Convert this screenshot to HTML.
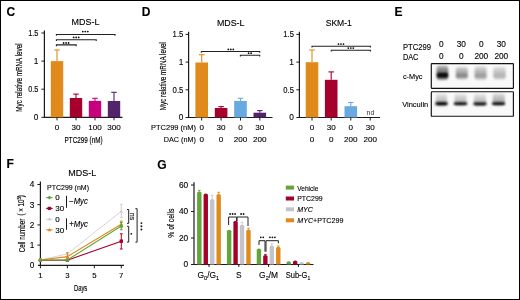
<!DOCTYPE html>
<html><head><meta charset="utf-8"><style>
html,body{margin:0;padding:0;background:#fff;width:520px;height:300px;overflow:hidden}
text{font-family:"Liberation Sans", sans-serif;stroke:#000;stroke-width:0.12px}
.hv{stroke-width:0.16px}
.tt{stroke-width:0.14px}
</style></head><body>
<svg width="520" height="300" viewBox="0 0 520 300" style="display:block;will-change:transform;font-family:'Liberation Sans', sans-serif">
<rect x="0" y="0" width="520" height="300" fill="#fff"/>

<defs>
<filter id="b1" x="-50%" y="-50%" width="200%" height="200%"><feGaussianBlur stdDeviation="1.2"/></filter>
<filter id="b2" x="-50%" y="-50%" width="200%" height="200%"><feGaussianBlur stdDeviation="0.85"/></filter>
<filter id="b3" x="-50%" y="-50%" width="200%" height="200%"><feGaussianBlur stdDeviation="1.0"/></filter>
<linearGradient id="g1" x1="0" y1="0" x2="0" y2="1"><stop offset="0" stop-color="#000" stop-opacity="0.25"/><stop offset="0.45" stop-color="#000" stop-opacity="0.55"/><stop offset="0.7" stop-color="#000" stop-opacity="0.95"/><stop offset="1" stop-color="#000" stop-opacity="0.35"/></linearGradient>
<linearGradient id="g2" x1="0" y1="0" x2="0" y2="1"><stop offset="0" stop-color="#000" stop-opacity="0.15"/><stop offset="0.5" stop-color="#000" stop-opacity="0.35"/><stop offset="0.72" stop-color="#000" stop-opacity="0.5"/><stop offset="1" stop-color="#000" stop-opacity="0.15"/></linearGradient>
<linearGradient id="g3" x1="0" y1="0" x2="0" y2="1"><stop offset="0" stop-color="#000" stop-opacity="0.12"/><stop offset="0.5" stop-color="#000" stop-opacity="0.3"/><stop offset="0.72" stop-color="#000" stop-opacity="0.4"/><stop offset="1" stop-color="#000" stop-opacity="0.12"/></linearGradient>
<linearGradient id="g4" x1="0" y1="0" x2="0" y2="1"><stop offset="0" stop-color="#000" stop-opacity="0.1"/><stop offset="0.5" stop-color="#000" stop-opacity="0.24"/><stop offset="0.72" stop-color="#000" stop-opacity="0.3"/><stop offset="1" stop-color="#000" stop-opacity="0.1"/></linearGradient>
<linearGradient id="gv" x1="0" y1="0" x2="0" y2="1"><stop offset="0" stop-color="#000" stop-opacity="0.08"/><stop offset="1" stop-color="#000" stop-opacity="0.3"/></linearGradient>
<linearGradient id="gv2" x1="0" y1="0" x2="0" y2="1"><stop offset="0" stop-color="#000" stop-opacity="0.12"/><stop offset="1" stop-color="#000" stop-opacity="0.38"/></linearGradient>
</defs>
<rect x="431.3" y="63.6" width="82.1" height="24.7" rx="0.6" fill="#f9f9f9" stroke="#111" stroke-width="1.15"/>
<rect x="431.3" y="91.7" width="82.1" height="24.6" rx="0.6" fill="#f9f9f9" stroke="#111" stroke-width="1.15"/>
<g filter="url(#b1)">
<rect x="436.6" y="65.5" width="11.6" height="14.5" rx="3" fill="url(#g1)"/>
<rect x="455.8" y="67" width="12" height="12.5" rx="3" fill="url(#g2)"/>
<rect x="474.6" y="66.2" width="12" height="13.8" rx="3" fill="url(#g3)"/>
<rect x="493.3" y="66.8" width="12.4" height="13" rx="3" fill="url(#g4)"/>
</g>
<g filter="url(#b3)">
<rect x="437.5" y="73.6" width="10.2" height="2.8" rx="1.4" fill="#000" opacity="0.9"/>
</g>
<g filter="url(#b1)">
<rect x="436" y="93.8" width="11" height="9.5" rx="2" fill="url(#gv)"/>
<rect x="454.5" y="94" width="12" height="9.3" rx="2" fill="url(#gv)"/>
<rect x="474" y="94" width="12" height="9.5" rx="2" fill="url(#gv)"/>
<rect x="492.7" y="93.5" width="12" height="10" rx="2" fill="url(#gv2)"/>
</g>
<g filter="url(#b2)">
<path d="M435.5 102.3 Q441.5 101.9 447.5 102.3 L447.5 104.9 Q441.5 105.9 435.5 104.9 Z" fill="#000"/>
<path d="M453.9 102.4 Q460.5 102 467.1 102.4 L467.1 104.8 Q460.5 105.8 453.9 104.8 Z" fill="#000"/>
<path d="M473.6 102.6 Q480 102.2 486.4 102.6 L486.4 105 Q480 106 473.6 105 Z" fill="#000"/>
<path d="M492.1 102.4 Q498.5 102 505 102.4 L505 104.8 Q498.5 105.8 492.1 104.8 Z" fill="#000"/>
</g>

<text x="6.6" y="16.4" font-size="12" text-anchor="start" font-weight="bold" font-style="normal" fill="#000" >C</text>
<text x="85.5" y="25" font-size="9.9" text-anchor="middle" font-weight="normal" font-style="normal" fill="#000" textLength="27.8" lengthAdjust="spacingAndGlyphs" class="tt">MDS-L</text>
<line x1="44.4" y1="30.499999999999986" x2="44.4" y2="117.8" stroke="#1a1a1a" stroke-width="1.2"/>
<line x1="43.9" y1="117.3" x2="122.5" y2="117.3" stroke="#1a1a1a" stroke-width="1.2"/>
<line x1="41.4" y1="117.3" x2="44.4" y2="117.3" stroke="#1a1a1a" stroke-width="1"/>
<text x="38.4" y="120.2" font-size="8.3" text-anchor="end" font-weight="normal" font-style="normal" fill="#000" >0</text>
<line x1="41.4" y1="89.19999999999999" x2="44.4" y2="89.19999999999999" stroke="#1a1a1a" stroke-width="1"/>
<text x="38.4" y="92.1" font-size="8.3" text-anchor="end" font-weight="normal" font-style="normal" fill="#000" textLength="10.2" lengthAdjust="spacingAndGlyphs" >0.5</text>
<line x1="41.4" y1="61.099999999999994" x2="44.4" y2="61.099999999999994" stroke="#1a1a1a" stroke-width="1"/>
<text x="38.4" y="63.99999999999999" font-size="8.3" text-anchor="end" font-weight="normal" font-style="normal" fill="#000" >1</text>
<line x1="41.4" y1="32.999999999999986" x2="44.4" y2="32.999999999999986" stroke="#1a1a1a" stroke-width="1"/>
<text x="38.4" y="35.899999999999984" font-size="8.3" text-anchor="end" font-weight="normal" font-style="normal" fill="#000" textLength="10.2" lengthAdjust="spacingAndGlyphs" >1.5</text>
<rect x="50.8" y="61.1" width="12.4" height="56.199999999999996" fill="#E08A1C"/>
<line x1="57" y1="50" x2="57" y2="61.1" stroke="#E08A1C" stroke-width="1.1"/>
<line x1="54.25" y1="50" x2="59.75" y2="50" stroke="#E08A1C" stroke-width="1.1"/>
<line x1="57" y1="117.3" x2="57" y2="120.3" stroke="#1a1a1a" stroke-width="1"/>
<rect x="69.8" y="98" width="12.4" height="19.299999999999997" fill="#A6002C"/>
<line x1="76" y1="94.1" x2="76" y2="98" stroke="#A6002C" stroke-width="1.1"/>
<line x1="73.25" y1="94.1" x2="78.75" y2="94.1" stroke="#A6002C" stroke-width="1.1"/>
<line x1="76" y1="117.3" x2="76" y2="120.3" stroke="#1a1a1a" stroke-width="1"/>
<rect x="88.8" y="100.9" width="12.4" height="16.39999999999999" fill="#C9007C"/>
<line x1="95" y1="98.3" x2="95" y2="100.9" stroke="#C9007C" stroke-width="1.1"/>
<line x1="92.25" y1="98.3" x2="97.75" y2="98.3" stroke="#C9007C" stroke-width="1.1"/>
<line x1="95" y1="117.3" x2="95" y2="120.3" stroke="#1a1a1a" stroke-width="1"/>
<rect x="107.8" y="101" width="12.4" height="16.299999999999997" fill="#54246A"/>
<line x1="114" y1="92.3" x2="114" y2="101" stroke="#54246A" stroke-width="1.1"/>
<line x1="111.25" y1="92.3" x2="116.75" y2="92.3" stroke="#54246A" stroke-width="1.1"/>
<line x1="114" y1="117.3" x2="114" y2="120.3" stroke="#1a1a1a" stroke-width="1"/>
<text x="57" y="130.4" font-size="8.1" text-anchor="middle" font-weight="normal" font-style="normal" fill="#000" >0</text>
<text x="76" y="130.4" font-size="8.1" text-anchor="middle" font-weight="normal" font-style="normal" fill="#000" >30</text>
<text x="95" y="130.4" font-size="8.1" text-anchor="middle" font-weight="normal" font-style="normal" fill="#000" >100</text>
<text x="114" y="130.4" font-size="8.1" text-anchor="middle" font-weight="normal" font-style="normal" fill="#000" >300</text>
<text x="83.6" y="142.6" font-size="8.5" text-anchor="middle" font-weight="normal" font-style="normal" fill="#000" textLength="38" lengthAdjust="spacingAndGlyphs" class="hv">PTC299 (nM)</text>
<text class="hv" transform="translate(21.8,77.5) rotate(-90)" x="0" y="0" font-size="8.4" text-anchor="middle" fill="#000" textLength="68.3" lengthAdjust="spacingAndGlyphs">Myc relative mRNA level</text>
<path d="M56.4 35.8 V34.5 H115 V35.8" fill="none" stroke="#222" stroke-width="1.1"/>
<circle cx="82.80" cy="31.60" r="0.9" fill="#111"/>
<circle cx="85.30" cy="31.60" r="0.9" fill="#111"/>
<circle cx="87.80" cy="31.60" r="0.9" fill="#111"/>
<path d="M56.4 41.0 V39.7 H96.2 V41.0" fill="none" stroke="#222" stroke-width="1.1"/>
<circle cx="73.70" cy="37.40" r="0.9" fill="#111"/>
<circle cx="76.20" cy="37.40" r="0.9" fill="#111"/>
<circle cx="78.70" cy="37.40" r="0.9" fill="#111"/>
<path d="M56.4 46.199999999999996 V44.9 H76.2 V46.199999999999996" fill="none" stroke="#222" stroke-width="1.1"/>
<circle cx="63.60" cy="43.00" r="0.9" fill="#111"/>
<circle cx="66.10" cy="43.00" r="0.9" fill="#111"/>
<circle cx="68.60" cy="43.00" r="0.9" fill="#111"/>
<text x="141.8" y="16.4" font-size="12" text-anchor="start" font-weight="bold" font-style="normal" fill="#000" >D</text>
<text x="230.7" y="25.7" font-size="9.9" text-anchor="middle" font-weight="normal" font-style="normal" fill="#000" textLength="27.6" lengthAdjust="spacingAndGlyphs" class="tt">MDS-L</text>
<line x1="188.6" y1="31.800000000000004" x2="188.6" y2="118.0" stroke="#1a1a1a" stroke-width="1.2"/>
<line x1="188.1" y1="117.5" x2="272.5" y2="117.5" stroke="#1a1a1a" stroke-width="1.2"/>
<line x1="185.6" y1="117.5" x2="188.6" y2="117.5" stroke="#1a1a1a" stroke-width="1"/>
<text x="183.4" y="120.4" font-size="8.3" text-anchor="end" font-weight="normal" font-style="normal" fill="#000" >0</text>
<line x1="185.6" y1="89.8" x2="188.6" y2="89.8" stroke="#1a1a1a" stroke-width="1"/>
<text x="183.4" y="92.7" font-size="8.3" text-anchor="end" font-weight="normal" font-style="normal" fill="#000" textLength="10.8" lengthAdjust="spacingAndGlyphs" >0.5</text>
<line x1="185.6" y1="62.1" x2="188.6" y2="62.1" stroke="#1a1a1a" stroke-width="1"/>
<text x="183.4" y="65.0" font-size="8.3" text-anchor="end" font-weight="normal" font-style="normal" fill="#000" >1</text>
<line x1="185.6" y1="34.400000000000006" x2="188.6" y2="34.400000000000006" stroke="#1a1a1a" stroke-width="1"/>
<text x="183.4" y="37.300000000000004" font-size="8.3" text-anchor="end" font-weight="normal" font-style="normal" fill="#000" textLength="10.8" lengthAdjust="spacingAndGlyphs" >1.5</text>
<rect x="195.39999999999998" y="62.5" width="12.6" height="55.0" fill="#E08A1C"/>
<line x1="201.7" y1="54.7" x2="201.7" y2="62.5" stroke="#E08A1C" stroke-width="1.1"/>
<line x1="198.95" y1="54.7" x2="204.45" y2="54.7" stroke="#E08A1C" stroke-width="1.1"/>
<line x1="201.7" y1="117.5" x2="201.7" y2="120.5" stroke="#1a1a1a" stroke-width="1"/>
<rect x="214.79999999999998" y="108" width="12.6" height="9.5" fill="#A6002C"/>
<line x1="221.1" y1="106.6" x2="221.1" y2="108" stroke="#A6002C" stroke-width="1.1"/>
<line x1="218.35" y1="106.6" x2="223.85" y2="106.6" stroke="#A6002C" stroke-width="1.1"/>
<line x1="221.1" y1="117.5" x2="221.1" y2="120.5" stroke="#1a1a1a" stroke-width="1"/>
<rect x="234.2" y="100.9" width="12.6" height="16.599999999999994" fill="#68A9DF"/>
<line x1="240.5" y1="98.3" x2="240.5" y2="100.9" stroke="#68A9DF" stroke-width="1.1"/>
<line x1="237.75" y1="98.3" x2="243.25" y2="98.3" stroke="#68A9DF" stroke-width="1.1"/>
<line x1="240.5" y1="117.5" x2="240.5" y2="120.5" stroke="#1a1a1a" stroke-width="1"/>
<rect x="253.5" y="112.7" width="12.6" height="4.799999999999997" fill="#54246A"/>
<line x1="259.8" y1="110.6" x2="259.8" y2="112.7" stroke="#54246A" stroke-width="1.1"/>
<line x1="257.05" y1="110.6" x2="262.55" y2="110.6" stroke="#54246A" stroke-width="1.1"/>
<line x1="259.8" y1="117.5" x2="259.8" y2="120.5" stroke="#1a1a1a" stroke-width="1"/>
<text x="196" y="130.3" font-size="8.1" text-anchor="end" font-weight="normal" font-style="normal" fill="#000" textLength="45" lengthAdjust="spacingAndGlyphs" >PTC299 (nM)</text>
<text x="196" y="142.2" font-size="8.1" text-anchor="end" font-weight="normal" font-style="normal" fill="#000" textLength="32.2" lengthAdjust="spacingAndGlyphs" >DAC (nM)</text>
<text x="201.7" y="130.3" font-size="8.1" text-anchor="middle" font-weight="normal" font-style="normal" fill="#000" >0</text>
<text x="201.7" y="142.2" font-size="8.1" text-anchor="middle" font-weight="normal" font-style="normal" fill="#000" >0</text>
<text x="221.1" y="130.3" font-size="8.1" text-anchor="middle" font-weight="normal" font-style="normal" fill="#000" >30</text>
<text x="221.1" y="142.2" font-size="8.1" text-anchor="middle" font-weight="normal" font-style="normal" fill="#000" >0</text>
<text x="240.5" y="130.3" font-size="8.1" text-anchor="middle" font-weight="normal" font-style="normal" fill="#000" >0</text>
<text x="240.5" y="142.2" font-size="8.1" text-anchor="middle" font-weight="normal" font-style="normal" fill="#000" >200</text>
<text x="259.8" y="130.3" font-size="8.1" text-anchor="middle" font-weight="normal" font-style="normal" fill="#000" >30</text>
<text x="259.8" y="142.2" font-size="8.1" text-anchor="middle" font-weight="normal" font-style="normal" fill="#000" >200</text>
<text class="hv" transform="translate(166.2,76.1) rotate(-90)" x="0" y="0" font-size="8.4" text-anchor="middle" fill="#000" textLength="68.2" lengthAdjust="spacingAndGlyphs">Myc relative mRNA level</text>
<path d="M201.4 52.8 V51.5 H259.7 V52.8" fill="none" stroke="#222" stroke-width="1.1"/>
<circle cx="228.30" cy="49.40" r="0.9" fill="#111"/>
<circle cx="230.80" cy="49.40" r="0.9" fill="#111"/>
<circle cx="233.30" cy="49.40" r="0.9" fill="#111"/>
<path d="M240.4 56.599999999999994 V55.3 H259.7 V56.599999999999994" fill="none" stroke="#222" stroke-width="1.1"/>
<circle cx="248.65" cy="53.20" r="0.9" fill="#111"/>
<circle cx="251.15" cy="53.20" r="0.9" fill="#111"/>
<text x="338.8" y="25.6" font-size="9.9" text-anchor="middle" font-weight="normal" font-style="normal" fill="#000" textLength="26.2" lengthAdjust="spacingAndGlyphs" class="tt">SKM-1</text>
<line x1="299.4" y1="31.800000000000004" x2="299.4" y2="118.0" stroke="#1a1a1a" stroke-width="1.2"/>
<line x1="298.9" y1="117.5" x2="380" y2="117.5" stroke="#1a1a1a" stroke-width="1.2"/>
<line x1="296.4" y1="117.5" x2="299.4" y2="117.5" stroke="#1a1a1a" stroke-width="1"/>
<text x="293.9" y="120.4" font-size="8.3" text-anchor="end" font-weight="normal" font-style="normal" fill="#000" >0</text>
<line x1="296.4" y1="89.8" x2="299.4" y2="89.8" stroke="#1a1a1a" stroke-width="1"/>
<text x="293.9" y="92.7" font-size="8.3" text-anchor="end" font-weight="normal" font-style="normal" fill="#000" textLength="10.6" lengthAdjust="spacingAndGlyphs" >0.5</text>
<line x1="296.4" y1="62.1" x2="299.4" y2="62.1" stroke="#1a1a1a" stroke-width="1"/>
<text x="293.9" y="65.0" font-size="8.3" text-anchor="end" font-weight="normal" font-style="normal" fill="#000" >1</text>
<line x1="296.4" y1="34.400000000000006" x2="299.4" y2="34.400000000000006" stroke="#1a1a1a" stroke-width="1"/>
<text x="293.9" y="37.300000000000004" font-size="8.3" text-anchor="end" font-weight="normal" font-style="normal" fill="#000" textLength="10.6" lengthAdjust="spacingAndGlyphs" >1.5</text>
<rect x="305.7" y="62.2" width="12.6" height="55.3" fill="#E08A1C"/>
<line x1="312" y1="50" x2="312" y2="62.2" stroke="#E08A1C" stroke-width="1.1"/>
<line x1="309.25" y1="50" x2="314.75" y2="50" stroke="#E08A1C" stroke-width="1.1"/>
<rect x="324.9" y="79.8" width="12.6" height="37.7" fill="#A6002C"/>
<line x1="331.2" y1="71.9" x2="331.2" y2="79.8" stroke="#A6002C" stroke-width="1.1"/>
<line x1="328.45" y1="71.9" x2="333.95" y2="71.9" stroke="#A6002C" stroke-width="1.1"/>
<rect x="344.5" y="106.2" width="12.6" height="11.299999999999997" fill="#68A9DF"/>
<line x1="350.8" y1="102.5" x2="350.8" y2="106.2" stroke="#68A9DF" stroke-width="1.1"/>
<line x1="348.05" y1="102.5" x2="353.55" y2="102.5" stroke="#68A9DF" stroke-width="1.1"/>
<line x1="312" y1="117.5" x2="312" y2="120.5" stroke="#1a1a1a" stroke-width="1"/>
<line x1="331.2" y1="117.5" x2="331.2" y2="120.5" stroke="#1a1a1a" stroke-width="1"/>
<line x1="350.8" y1="117.5" x2="350.8" y2="120.5" stroke="#1a1a1a" stroke-width="1"/>
<line x1="370.2" y1="117.5" x2="370.2" y2="120.5" stroke="#1a1a1a" stroke-width="1"/>
<text x="370.4" y="115.4" font-size="7" text-anchor="middle" font-weight="normal" font-style="normal" fill="#333" style="stroke-width:0">nd</text>
<text x="312" y="130.3" font-size="8.1" text-anchor="middle" font-weight="normal" font-style="normal" fill="#000" >0</text>
<text x="312" y="142.2" font-size="8.1" text-anchor="middle" font-weight="normal" font-style="normal" fill="#000" >0</text>
<text x="331.2" y="130.3" font-size="8.1" text-anchor="middle" font-weight="normal" font-style="normal" fill="#000" >30</text>
<text x="331.2" y="142.2" font-size="8.1" text-anchor="middle" font-weight="normal" font-style="normal" fill="#000" >0</text>
<text x="350.8" y="130.3" font-size="8.1" text-anchor="middle" font-weight="normal" font-style="normal" fill="#000" >0</text>
<text x="350.8" y="142.2" font-size="8.1" text-anchor="middle" font-weight="normal" font-style="normal" fill="#000" >200</text>
<text x="370.2" y="130.3" font-size="8.1" text-anchor="middle" font-weight="normal" font-style="normal" fill="#000" >30</text>
<text x="370.2" y="142.2" font-size="8.1" text-anchor="middle" font-weight="normal" font-style="normal" fill="#000" >200</text>
<path d="M312 47.599999999999994 V46.3 H370.4 V47.599999999999994" fill="none" stroke="#222" stroke-width="1.1"/>
<circle cx="338.50" cy="44.10" r="0.9" fill="#111"/>
<circle cx="341.00" cy="44.10" r="0.9" fill="#111"/>
<circle cx="343.50" cy="44.10" r="0.9" fill="#111"/>
<path d="M331.3 51.599999999999994 V50.3 H370.4 V51.599999999999994" fill="none" stroke="#222" stroke-width="1.1"/>
<circle cx="348.30" cy="48.10" r="0.9" fill="#111"/>
<circle cx="350.80" cy="48.10" r="0.9" fill="#111"/>
<circle cx="353.30" cy="48.10" r="0.9" fill="#111"/>
<text x="394.4" y="16.4" font-size="12" text-anchor="start" font-weight="bold" font-style="normal" fill="#000" >E</text>
<text x="402.9" y="50.1" font-size="8.3" text-anchor="start" font-weight="normal" font-style="normal" fill="#000" textLength="28" lengthAdjust="spacingAndGlyphs" >PTC299</text>
<text x="402.9" y="59.9" font-size="8.3" text-anchor="start" font-weight="normal" font-style="normal" fill="#000" textLength="15.5" lengthAdjust="spacingAndGlyphs" >DAC</text>
<text x="441.3" y="47.2" font-size="8.3" text-anchor="middle" font-weight="normal" font-style="normal" fill="#000" >0</text>
<text x="441.3" y="58.8" font-size="8.3" text-anchor="middle" font-weight="normal" font-style="normal" fill="#000" >0</text>
<text x="461.3" y="47.2" font-size="8.3" text-anchor="middle" font-weight="normal" font-style="normal" fill="#000" >30</text>
<text x="461.3" y="58.8" font-size="8.3" text-anchor="middle" font-weight="normal" font-style="normal" fill="#000" >0</text>
<text x="481.3" y="47.2" font-size="8.3" text-anchor="middle" font-weight="normal" font-style="normal" fill="#000" >0</text>
<text x="481.3" y="58.8" font-size="8.3" text-anchor="middle" font-weight="normal" font-style="normal" fill="#000" >200</text>
<text x="501.3" y="47.2" font-size="8.3" text-anchor="middle" font-weight="normal" font-style="normal" fill="#000" >30</text>
<text x="501.3" y="58.8" font-size="8.3" text-anchor="middle" font-weight="normal" font-style="normal" fill="#000" >200</text>
<text x="402.9" y="79.4" font-size="7.8" text-anchor="start" font-weight="normal" font-style="normal" fill="#000" textLength="19.6" lengthAdjust="spacingAndGlyphs" >c-Myc</text>
<text x="402.2" y="107" font-size="8" text-anchor="start" font-weight="normal" font-style="normal" fill="#000" textLength="26" lengthAdjust="spacingAndGlyphs" >Vinculin</text>
<text x="6.6" y="168.4" font-size="12" text-anchor="start" font-weight="bold" font-style="normal" fill="#000" >F</text>
<text x="82.3" y="176.4" font-size="9.9" text-anchor="middle" font-weight="normal" font-style="normal" fill="#000" textLength="28" lengthAdjust="spacingAndGlyphs" class="tt">MDS-L</text>
<line x1="40.4" y1="181.5" x2="40.4" y2="265.8" stroke="#1a1a1a" stroke-width="1.2"/>
<line x1="37.9" y1="265.3" x2="124" y2="265.3" stroke="#1a1a1a" stroke-width="1.2"/>
<line x1="37.4" y1="245.10000000000002" x2="40.4" y2="245.10000000000002" stroke="#1a1a1a" stroke-width="1"/>
<line x1="37.4" y1="224.9" x2="40.4" y2="224.9" stroke="#1a1a1a" stroke-width="1"/>
<line x1="37.4" y1="204.70000000000002" x2="40.4" y2="204.70000000000002" stroke="#1a1a1a" stroke-width="1"/>
<line x1="37.4" y1="184.5" x2="40.4" y2="184.5" stroke="#1a1a1a" stroke-width="1"/>
<text x="34.3" y="268.2" font-size="8.3" text-anchor="end" font-weight="normal" font-style="normal" fill="#000" >0</text>
<text x="34.3" y="248.00000000000003" font-size="8.3" text-anchor="end" font-weight="normal" font-style="normal" fill="#000" >1</text>
<text x="34.3" y="227.8" font-size="8.3" text-anchor="end" font-weight="normal" font-style="normal" fill="#000" >2</text>
<text x="34.3" y="207.60000000000002" font-size="8.3" text-anchor="end" font-weight="normal" font-style="normal" fill="#000" >3</text>
<text x="34.3" y="187.4" font-size="8.3" text-anchor="end" font-weight="normal" font-style="normal" fill="#000" >4</text>
<line x1="40.4" y1="265.3" x2="40.4" y2="268.3" stroke="#1a1a1a" stroke-width="1"/>
<text x="40.4" y="278.1" font-size="7.8" text-anchor="middle" font-weight="normal" font-style="normal" fill="#000" >1</text>
<line x1="67.36" y1="265.3" x2="67.36" y2="268.3" stroke="#1a1a1a" stroke-width="1"/>
<text x="67.36" y="278.1" font-size="7.8" text-anchor="middle" font-weight="normal" font-style="normal" fill="#000" >3</text>
<line x1="94.32" y1="265.3" x2="94.32" y2="268.3" stroke="#1a1a1a" stroke-width="1"/>
<text x="94.32" y="278.1" font-size="7.8" text-anchor="middle" font-weight="normal" font-style="normal" fill="#000" >5</text>
<line x1="121.28" y1="265.3" x2="121.28" y2="268.3" stroke="#1a1a1a" stroke-width="1"/>
<text x="121.28" y="278.1" font-size="7.8" text-anchor="middle" font-weight="normal" font-style="normal" fill="#000" >7</text>
<text x="80.6" y="290.7" font-size="9.6" text-anchor="middle" font-weight="normal" font-style="normal" fill="#000" textLength="13.4" lengthAdjust="spacingAndGlyphs" class="hv">Days</text>
<text class="hv" transform="translate(24.6,235.5) rotate(-90)" font-size="9" text-anchor="middle" fill="#000" textLength="33.6" lengthAdjust="spacingAndGlyphs">Cell number</text>
<text class="hv" transform="translate(24.4,205.3) rotate(-90)" font-size="8.6" text-anchor="middle" fill="#000" textLength="20.5" lengthAdjust="spacingAndGlyphs">( × 10<tspan font-size="5.8" dy="-3.4">5</tspan><tspan dy="3.4">)</tspan></text>
<text x="68" y="190.3" font-size="8" text-anchor="middle" font-weight="normal" font-style="normal" fill="#000" textLength="42" lengthAdjust="spacingAndGlyphs" >PTC299 (nM)</text>
<polyline points="40.40,260.2 67.36,260.2 121.28,241.2" fill="none" stroke="#A6002C" stroke-width="1.1"/>
<circle cx="40.4" cy="260.2" r="1.85" fill="#A6002C"/>
<circle cx="67.36" cy="260.2" r="1.85" fill="#A6002C"/>
<line x1="121.28" y1="233.8" x2="121.28" y2="249" stroke="#A6002C" stroke-width="1"/>
<line x1="119.88" y1="233.8" x2="122.68" y2="233.8" stroke="#A6002C" stroke-width="1"/>
<line x1="119.88" y1="249" x2="122.68" y2="249" stroke="#A6002C" stroke-width="1"/>
<rect x="119.58" y="239.5" width="3.4" height="3.4" fill="#A6002C"/>
<polyline points="40.40,260 67.36,253.8 121.28,211.3" fill="none" stroke="#cfcfcf" stroke-width="0.9"/>
<polygon points="38.5,261.4 40.4,258.1 42.3,261.4" fill="#cfcfcf"/>
<polygon points="65.46,255.20000000000002 67.36,251.9 69.26,255.20000000000002" fill="#cfcfcf"/>
<line x1="121.28" y1="204.3" x2="121.28" y2="217.5" stroke="#cfcfcf" stroke-width="1"/>
<line x1="119.88" y1="204.3" x2="122.68" y2="204.3" stroke="#cfcfcf" stroke-width="1"/>
<line x1="119.88" y1="217.5" x2="122.68" y2="217.5" stroke="#cfcfcf" stroke-width="1"/>
<polygon points="119.38,212.70000000000002 121.28,209.4 123.18,212.70000000000002" fill="#cfcfcf"/>
<polyline points="40.40,260 67.36,256.6 121.28,224.3" fill="none" stroke="#E08A1C" stroke-width="1.1"/>
<polygon points="38.5,261.4 40.4,258.1 42.3,261.4" fill="#E08A1C"/>
<line x1="67.36" y1="252.7" x2="67.36" y2="258" stroke="#E08A1C" stroke-width="1"/>
<line x1="65.96" y1="252.7" x2="68.76" y2="252.7" stroke="#E08A1C" stroke-width="1"/>
<line x1="65.96" y1="258" x2="68.76" y2="258" stroke="#E08A1C" stroke-width="1"/>
<polygon points="65.46,258.0 67.36,254.70000000000002 69.26,258.0" fill="#E08A1C"/>
<line x1="121.28" y1="221.1" x2="121.28" y2="227" stroke="#E08A1C" stroke-width="1"/>
<line x1="119.88" y1="221.1" x2="122.68" y2="221.1" stroke="#E08A1C" stroke-width="1"/>
<line x1="119.88" y1="227" x2="122.68" y2="227" stroke="#E08A1C" stroke-width="1"/>
<polygon points="119.38,225.70000000000002 121.28,222.4 123.18,225.70000000000002" fill="#E08A1C"/>
<polyline points="40.40,260 67.36,260 121.28,226.0" fill="none" stroke="#62A538" stroke-width="1.1"/>
<circle cx="40.4" cy="260" r="1.85" fill="#62A538"/>
<circle cx="67.36" cy="260" r="1.85" fill="#62A538"/>
<line x1="121.28" y1="222.5" x2="121.28" y2="229.8" stroke="#62A538" stroke-width="1"/>
<line x1="119.88" y1="222.5" x2="122.68" y2="222.5" stroke="#62A538" stroke-width="1"/>
<line x1="119.88" y1="229.8" x2="122.68" y2="229.8" stroke="#62A538" stroke-width="1"/>
<circle cx="121.28" cy="226.0" r="1.85" fill="#62A538"/>
<line x1="46.2" y1="197.6" x2="52.6" y2="197.6" stroke="#62A538" stroke-width="1.1"/>
<polygon points="47.1,197.6 49.4,195.7 51.699999999999996,197.6 49.4,199.5" fill="#62A538"/>
<text x="55.2" y="200.4" font-size="8" text-anchor="start" font-weight="normal" font-style="normal" fill="#000" >0</text>
<line x1="46.2" y1="208.4" x2="52.6" y2="208.4" stroke="#A6002C" stroke-width="1.1"/>
<polygon points="47.0,208.4 48.1,206.8 50.699999999999996,206.8 51.8,208.4 50.699999999999996,210.0 48.1,210.0" fill="#A6002C"/>
<text x="55.2" y="211.20000000000002" font-size="8" text-anchor="start" font-weight="normal" font-style="normal" fill="#000" >30</text>
<line x1="46.2" y1="219.2" x2="52.6" y2="219.2" stroke="#cfcfcf" stroke-width="1.1"/>
<polygon points="47.5,220.6 49.4,217.29999999999998 51.3,220.6" fill="#cfcfcf"/>
<text x="55.2" y="222.0" font-size="8" text-anchor="start" font-weight="normal" font-style="normal" fill="#000" >0</text>
<line x1="46.2" y1="229.8" x2="52.6" y2="229.8" stroke="#E08A1C" stroke-width="1.1"/>
<polygon points="47.5,231.20000000000002 49.4,227.9 51.3,231.20000000000002" fill="#E08A1C"/>
<text x="55.2" y="232.60000000000002" font-size="8" text-anchor="start" font-weight="normal" font-style="normal" fill="#000" >30</text>
<line x1="66.5" y1="195.8" x2="66.5" y2="207.8" stroke="#1a1a1a" stroke-width="1"/>
<line x1="66.5" y1="218.4" x2="66.5" y2="229.8" stroke="#1a1a1a" stroke-width="1"/>
<text x="69.2" y="204.4" font-size="8.5" text-anchor="start" font-weight="normal" font-style="normal" fill="#000" textLength="18.6" lengthAdjust="spacingAndGlyphs" >−<tspan font-style="italic">Myc</tspan></text>
<text x="69.2" y="226.7" font-size="8.5" text-anchor="start" font-weight="normal" font-style="normal" fill="#000" textLength="18.8" lengthAdjust="spacingAndGlyphs" >+<tspan font-style="italic">Myc</tspan></text>
<path d="M127 209.5 H128.7 V223.4 H127" fill="none" stroke="#222" stroke-width="1"/>
<path d="M127 226.3 H128.7 V242.1 H127" fill="none" stroke="#222" stroke-width="1"/>
<path d="M135.4 208.7 H137.1 V242.1 H135.4" fill="none" stroke="#222" stroke-width="1"/>
<text transform="translate(130.2,216.5) rotate(90)" font-size="7" text-anchor="middle" fill="#222">ns</text>
<circle cx="131.30" cy="233.80" r="0.9" fill="#111"/>
<circle cx="141.40" cy="223.10" r="0.95" fill="#111"/>
<circle cx="141.40" cy="226.30" r="0.95" fill="#111"/>
<circle cx="141.40" cy="229.50" r="0.95" fill="#111"/>
<text x="157.3" y="168.5" font-size="12" text-anchor="start" font-weight="bold" font-style="normal" fill="#000" >G</text>
<line x1="194" y1="182.2" x2="194" y2="265.0" stroke="#1a1a1a" stroke-width="1.2"/>
<line x1="191" y1="264.5" x2="313.5" y2="264.5" stroke="#1a1a1a" stroke-width="1.2"/>
<line x1="191" y1="238.0" x2="194" y2="238.0" stroke="#1a1a1a" stroke-width="1"/>
<line x1="191" y1="211.5" x2="194" y2="211.5" stroke="#1a1a1a" stroke-width="1"/>
<line x1="191" y1="185.0" x2="194" y2="185.0" stroke="#1a1a1a" stroke-width="1"/>
<text x="188.2" y="267.4" font-size="8.3" text-anchor="end" font-weight="normal" font-style="normal" fill="#000" >0</text>
<text x="188.2" y="240.9" font-size="8.3" text-anchor="end" font-weight="normal" font-style="normal" fill="#000" >20</text>
<text x="188.2" y="214.4" font-size="8.3" text-anchor="end" font-weight="normal" font-style="normal" fill="#000" >40</text>
<text x="188.2" y="187.9" font-size="8.3" text-anchor="end" font-weight="normal" font-style="normal" fill="#000" >60</text>
<path d="M197.12 264.5 V192.90 Q197.12 191.70 199.32 191.40 Q201.52 191.70 201.52 192.90 V264.5 Z" fill="#62A538"/>
<line x1="199.325" y1="190.4" x2="199.325" y2="191.7" stroke="#62A538" stroke-width="0.9"/>
<line x1="198.02499999999998" y1="190.4" x2="200.625" y2="190.4" stroke="#62A538" stroke-width="0.9"/>
<path d="M203.58 264.5 V194.90 Q203.58 193.70 205.78 193.40 Q207.97 193.70 207.97 194.90 V264.5 Z" fill="#A6002C"/>
<path d="M210.03 264.5 V200.50 Q210.03 199.30 212.22 199.00 Q214.42 199.30 214.42 200.50 V264.5 Z" fill="#C5C3CA"/>
<line x1="212.225" y1="195.3" x2="212.225" y2="199.3" stroke="#C5C3CA" stroke-width="0.9"/>
<line x1="210.92499999999998" y1="195.3" x2="213.525" y2="195.3" stroke="#C5C3CA" stroke-width="0.9"/>
<path d="M216.48 264.5 V195.50 Q216.48 194.30 218.68 194.00 Q220.88 194.30 220.88 195.50 V264.5 Z" fill="#E08A1C"/>
<line x1="218.675" y1="192.3" x2="218.675" y2="194.3" stroke="#E08A1C" stroke-width="0.9"/>
<line x1="217.375" y1="192.3" x2="219.97500000000002" y2="192.3" stroke="#E08A1C" stroke-width="0.9"/>
<line x1="209.0" y1="264.5" x2="209.0" y2="267.0" stroke="#1a1a1a" stroke-width="1"/>
<path d="M226.93 264.5 V231.20 Q226.93 230.00 229.12 229.70 Q231.32 230.00 231.32 231.20 V264.5 Z" fill="#62A538"/>
<path d="M233.38 264.5 V222.20 Q233.38 221.00 235.58 220.70 Q237.78 221.00 237.78 222.20 V264.5 Z" fill="#A6002C"/>
<path d="M239.83 264.5 V226.20 Q239.83 225.00 242.03 224.70 Q244.22 225.00 244.22 226.20 V264.5 Z" fill="#C5C3CA"/>
<line x1="242.025" y1="222.3" x2="242.025" y2="225" stroke="#C5C3CA" stroke-width="0.9"/>
<line x1="240.725" y1="222.3" x2="243.32500000000002" y2="222.3" stroke="#C5C3CA" stroke-width="0.9"/>
<path d="M246.28 264.5 V230.90 Q246.28 229.70 248.48 229.40 Q250.68 229.70 250.68 230.90 V264.5 Z" fill="#E08A1C"/>
<line x1="248.47500000000002" y1="228.3" x2="248.47500000000002" y2="229.7" stroke="#E08A1C" stroke-width="0.9"/>
<line x1="247.175" y1="228.3" x2="249.77500000000003" y2="228.3" stroke="#E08A1C" stroke-width="0.9"/>
<line x1="238.8" y1="264.5" x2="238.8" y2="267.0" stroke="#1a1a1a" stroke-width="1"/>
<path d="M256.73 264.5 V249.90 Q256.73 248.70 258.93 248.40 Q261.12 248.70 261.12 249.90 V264.5 Z" fill="#62A538"/>
<path d="M263.18 264.5 V256.50 Q263.18 255.30 265.38 255.00 Q267.57 255.30 267.57 256.50 V264.5 Z" fill="#A6002C"/>
<line x1="265.375" y1="254.4" x2="265.375" y2="255.3" stroke="#A6002C" stroke-width="0.9"/>
<line x1="264.075" y1="254.4" x2="266.675" y2="254.4" stroke="#A6002C" stroke-width="0.9"/>
<path d="M269.63 264.5 V246.90 Q269.63 245.70 271.83 245.40 Q274.03 245.70 274.03 246.90 V264.5 Z" fill="#C5C3CA"/>
<line x1="271.82500000000005" y1="244" x2="271.82500000000005" y2="245.7" stroke="#C5C3CA" stroke-width="0.9"/>
<line x1="270.52500000000003" y1="244" x2="273.12500000000006" y2="244" stroke="#C5C3CA" stroke-width="0.9"/>
<path d="M276.08 264.5 V248.20 Q276.08 247.00 278.28 246.70 Q280.48 247.00 280.48 248.20 V264.5 Z" fill="#E08A1C"/>
<line x1="278.27500000000003" y1="246" x2="278.27500000000003" y2="247" stroke="#E08A1C" stroke-width="0.9"/>
<line x1="276.975" y1="246" x2="279.57500000000005" y2="246" stroke="#E08A1C" stroke-width="0.9"/>
<line x1="268.6" y1="264.5" x2="268.6" y2="267.0" stroke="#1a1a1a" stroke-width="1"/>
<path d="M286.52 264.5 V262.80 Q286.52 261.60 288.72 261.30 Q290.92 261.60 290.92 262.80 V264.5 Z" fill="#62A538"/>
<path d="M292.97 264.5 V261.90 Q292.97 260.70 295.17 260.40 Q297.37 260.70 297.37 261.90 V264.5 Z" fill="#A6002C"/>
<path d="M299.43 264.5 V263.50 Q299.43 262.30 301.62 262.00 Q303.82 262.30 303.82 263.50 V264.5 Z" fill="#C5C3CA"/>
<path d="M305.88 264.5 V263.60 Q305.88 262.40 308.07 262.10 Q310.27 262.40 310.27 263.60 V264.5 Z" fill="#E08A1C"/>
<line x1="298.4" y1="264.5" x2="298.4" y2="267.0" stroke="#1a1a1a" stroke-width="1"/>
<text x="197.6" y="277.8" font-size="8.4" text-anchor="start" font-weight="normal" font-style="normal" fill="#000" >G<tspan font-size="5.6" dy="1.8">0</tspan><tspan dy="-1.8">/G</tspan><tspan font-size="5.6" dy="1.8">1</tspan></text>
<text x="238.8" y="277.8" font-size="8.4" text-anchor="middle" font-weight="normal" font-style="normal" fill="#000" >S</text>
<text x="268.6" y="277.8" font-size="8.4" text-anchor="middle" font-weight="normal" font-style="normal" fill="#000" >G<tspan font-size="5.6" dy="1.8">2</tspan><tspan dy="-1.8">/M</tspan></text>
<text x="298" y="277.8" font-size="8.4" text-anchor="middle" font-weight="normal" font-style="normal" fill="#000" textLength="24.6" lengthAdjust="spacingAndGlyphs" >Sub-G<tspan font-size="5.6" dy="1.8">1</tspan></text>
<text class="hv" transform="translate(174.2,223.2) rotate(-90)" x="0" y="0" font-size="8.6" text-anchor="middle" fill="#000" textLength="29" lengthAdjust="spacingAndGlyphs">% of cells</text>
<path d="M228.6 225 V217 H236.7 V221" fill="none" stroke="#222" stroke-width="1"/>
<path d="M237 221 V217 H248 V226" fill="none" stroke="#222" stroke-width="1"/>
<circle cx="230.10" cy="214.00" r="0.9" fill="#111"/>
<circle cx="232.60" cy="214.00" r="0.9" fill="#111"/>
<circle cx="235.10" cy="214.00" r="0.9" fill="#111"/>
<circle cx="241.05" cy="214.00" r="0.9" fill="#111"/>
<circle cx="243.55" cy="214.00" r="0.9" fill="#111"/>
<path d="M259 245 V240.7 H265 V251.7" fill="none" stroke="#222" stroke-width="1"/>
<path d="M266 251.7 V240.7 H278.4 V243.3" fill="none" stroke="#222" stroke-width="1"/>
<circle cx="260.75" cy="237.30" r="0.9" fill="#111"/>
<circle cx="263.25" cy="237.30" r="0.9" fill="#111"/>
<circle cx="269.90" cy="237.30" r="0.9" fill="#111"/>
<circle cx="272.40" cy="237.30" r="0.9" fill="#111"/>
<circle cx="274.90" cy="237.30" r="0.9" fill="#111"/>
<rect x="285.8" y="185.6" width="8.2" height="4" fill="#62A538"/>
<text x="297.2" y="190.5" font-size="8" text-anchor="start" font-weight="normal" font-style="normal" fill="#000" textLength="21.3" lengthAdjust="spacingAndGlyphs" >Vehicle</text>
<rect x="285.8" y="196.5" width="8.2" height="4" fill="#A6002C"/>
<text x="297.2" y="201.4" font-size="8" text-anchor="start" font-weight="normal" font-style="normal" fill="#000" textLength="25.4" lengthAdjust="spacingAndGlyphs" >PTC299</text>
<rect x="285.8" y="207.3" width="8.2" height="4" fill="#C5C3CA"/>
<text x="297.2" y="212.20000000000002" font-size="8" text-anchor="start" font-weight="normal" font-style="normal" fill="#000" textLength="15.8" lengthAdjust="spacingAndGlyphs" ><tspan font-style="italic">MYC</tspan></text>
<rect x="285.8" y="218.3" width="8.2" height="4" fill="#E08A1C"/>
<text x="297.2" y="223.20000000000002" font-size="8" text-anchor="start" font-weight="normal" font-style="normal" fill="#000" textLength="46.2" lengthAdjust="spacingAndGlyphs" ><tspan font-style="italic">MYC</tspan>+PTC299</text>
<rect x="0.5" y="0.5" width="519" height="299" fill="none" stroke="#000" stroke-width="1"/>
</svg>
</body></html>
